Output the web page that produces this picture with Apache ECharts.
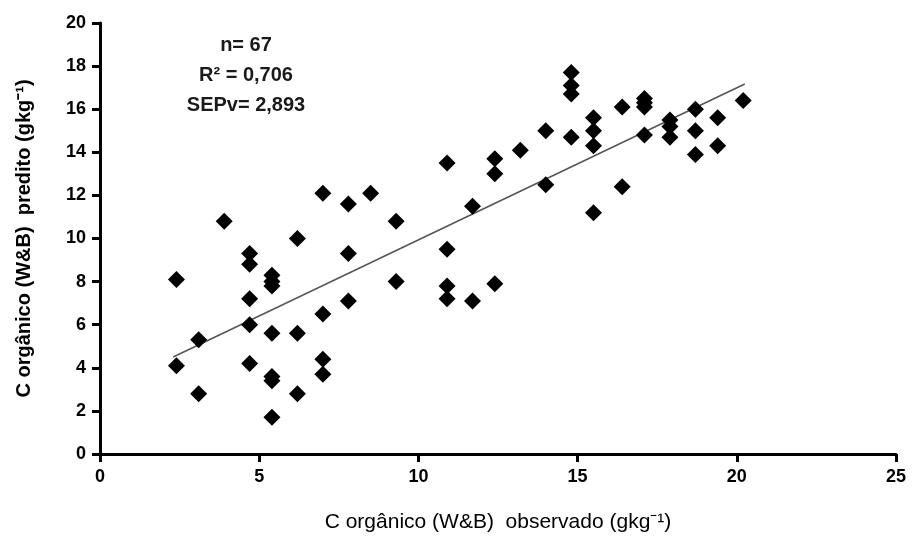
<!DOCTYPE html>
<html>
<head>
<meta charset="utf-8">
<script src="https://cdn.jsdelivr.net/npm/echarts@6/dist/echarts.min.js"></script>
<style>
  html, body { margin: 0; padding: 0; background: #fff; }
  #chart { width: 913px; height: 543px; }
</style>
</head>
<body>
<div id="chart"></div>
<script>
var observado = [
    2.4, 2.4, 3.1, 3.1, 3.9, 4.7, 4.7, 4.7, 4.7, 4.7,
    5.4, 5.4, 5.4, 5.4, 5.4, 5.4, 5.4, 6.2, 6.2, 6.2,
    7.0, 7.0, 7.0, 7.0, 7.8, 7.8, 7.8, 8.5, 9.3, 9.3,
    10.9, 10.9, 10.9, 10.9, 11.7, 11.7, 12.4, 12.4, 12.4, 13.2,
    14.0, 14.0, 14.8, 14.8, 14.8, 14.8, 15.5, 15.5, 15.5, 15.5,
    16.4, 16.4, 17.1, 17.1, 17.1, 17.1, 17.9, 17.9, 17.9, 18.7,
    18.7, 18.7, 19.4, 19.4, 20.2
];
var predito = [
    8.1, 4.1, 5.3, 2.8, 10.8, 9.3, 8.8, 7.2, 6.0, 4.2,
    8.3, 8.0, 7.8, 5.6, 3.6, 3.4, 1.7, 10.0, 5.6, 2.8,
    12.1, 6.5, 4.4, 3.7, 11.6, 9.3, 7.1, 12.1, 10.8, 8.0,
    13.5, 9.5, 7.8, 7.2, 11.5, 7.1, 13.7, 13.0, 7.9, 14.1,
    15.0, 12.5, 17.7, 17.1, 16.7, 14.7, 15.6, 15.0, 14.3, 11.2,
    16.1, 12.4, 16.5, 16.3, 16.1, 14.8, 15.5, 15.2, 14.7, 16.0,
    15.0, 13.9, 15.6, 14.3, 16.4
];
// trend line end points
var trendX = [2.3, 20.25];
var trendY = [4.5, 17.17];
var statsText = ['n= 67', 'R² = 0,706', 'SEPv= 2,893'];

var points = [];
for (var i = 0; i < observado.length; i++) {
    points.push([observado[i], predito[i]]);
}
var trend = [[trendX[0], trendY[0]], [trendX[1], trendY[1]]];

var fontFam = 'Liberation Sans, Arial, sans-serif';
var axisFont = {
    fontFamily: fontFam,
    fontWeight: 'bold',
    fontSize: 18,
    color: '#000'
};

var statsGraphic = [];
for (var j = 0; j < statsText.length; j++) {
    statsGraphic.push({
        type: 'text',
        x: 246,
        y: 45 + j * 30,
        style: {
            text: statsText[j],
            align: 'center',
            verticalAlign: 'middle',
            fontFamily: fontFam,
            fontWeight: 'bold',
            fontSize: 20,
            fill: '#1a1a1a'
        }
    });
}

var option = {
    animation: false,
    backgroundColor: '#fff',
    grid: {
        left: 100,
        right: 17,
        top: 23,
        bottom: 89,
        containLabel: false
    },
    xAxis: {
        type: 'value',
        min: 0,
        max: 25,
        interval: 5,
        name: 'C orgânico (W&B)  observado (gkg⁻¹)',
        nameLocation: 'middle',
        nameGap: 58,
        nameTextStyle: {
            fontFamily: fontFam,
            fontSize: 21,
            color: '#000'
        },
        axisLine: {show: true, onZero: false, lineStyle: {color: '#000', width: 3}},
        axisTick: {show: true, length: 8, lineStyle: {color: '#000', width: 3}},
        axisLabel: Object.assign({margin: 14}, axisFont),
        splitLine: {show: false}
    },
    yAxis: {
        type: 'value',
        min: 0,
        max: 20,
        interval: 2,
        name: 'C orgânico (W&B)  predito (gkg⁻¹)',
        nameLocation: 'middle',
        nameGap: 66,
        nameTextStyle: {
            fontFamily: fontFam,
            fontWeight: 'bold',
            fontSize: 20,
            color: '#000'
        },
        axisLine: {show: true, onZero: false, lineStyle: {color: '#000', width: 3}},
        axisTick: {show: true, length: 8, lineStyle: {color: '#000', width: 3}},
        axisLabel: Object.assign({margin: 14}, axisFont),
        splitLine: {show: false}
    },
    graphic: statsGraphic,
    series: [
        {
            name: 'trend',
            type: 'line',
            data: trend,
            symbol: 'none',
            silent: true,
            lineStyle: {color: '#555', width: 1.5},
            z: 1
        },
        {
            name: 'C orgânico',
            type: 'scatter',
            data: points,
            symbol: 'diamond',
            symbolSize: 17,
            itemStyle: {color: '#000', opacity: 1},
            z: 2
        }
    ]
};
echarts.init(document.getElementById('chart')).setOption(option);
</script>
</body>
</html>
